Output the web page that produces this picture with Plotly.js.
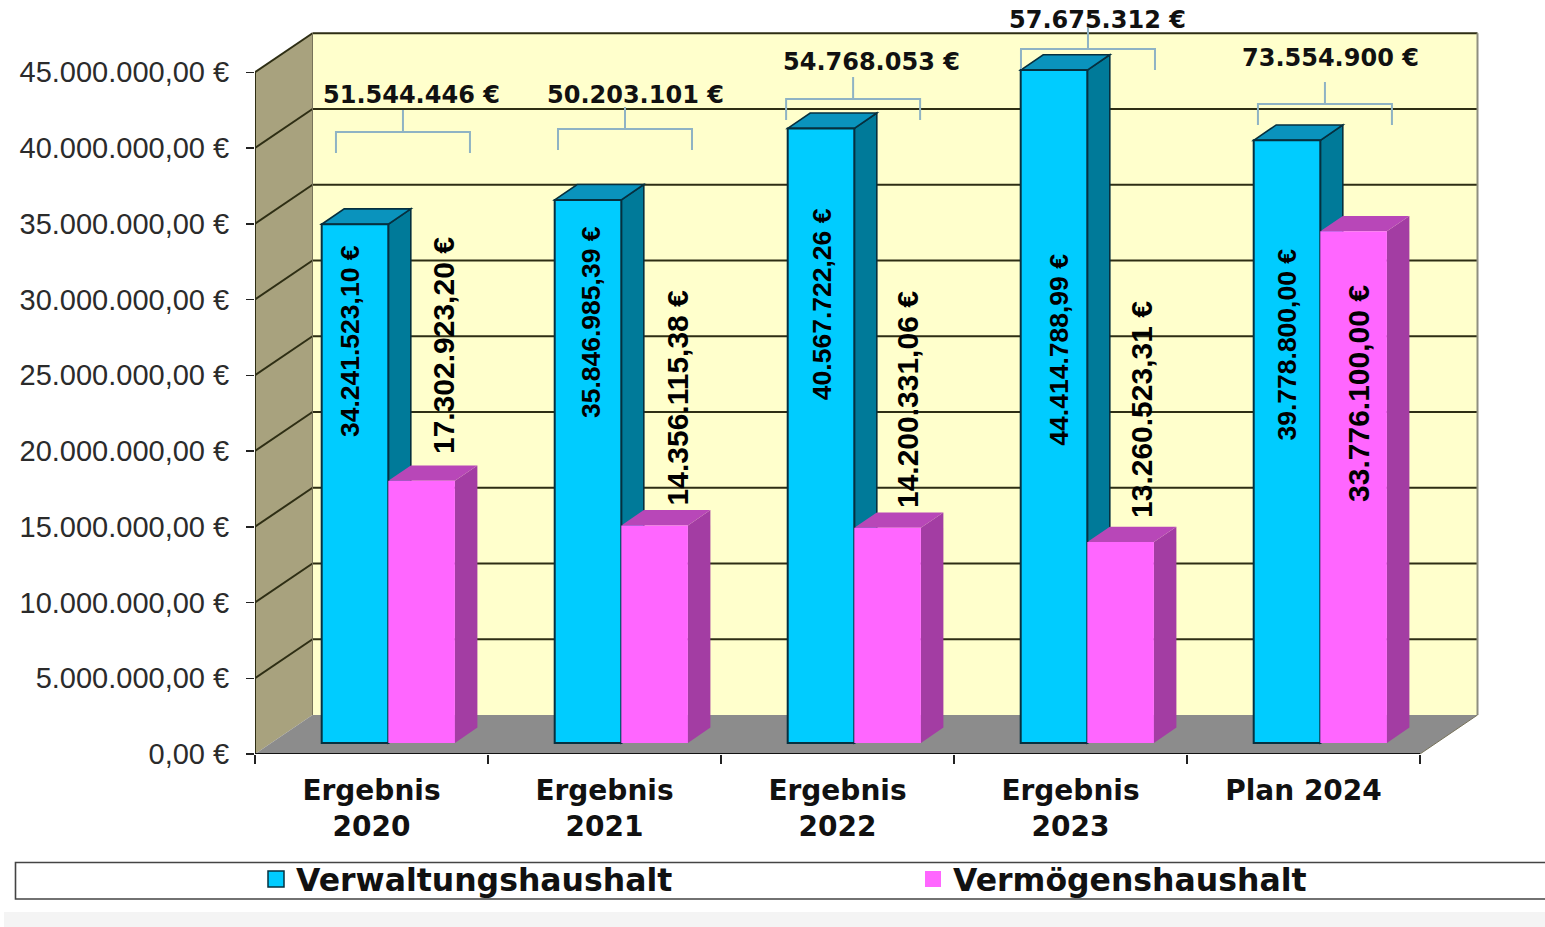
<!DOCTYPE html>
<html><head><meta charset="utf-8">
<script src="https://cdn.plot.ly/plotly-3.0.1.min.js"></script>
<style>html,body{margin:0;padding:0;background:#fff;overflow:hidden}#c{width:1545px;height:927px}</style>
</head><body><div id="c"></div>
<script>
var categories = ['Ergebnis<br>2020','Ergebnis<br>2021','Ergebnis<br>2022','Ergebnis<br>2023','Plan 2024'];
var verwaltung = [34241523.10,35846985.39,40567722.26,44414788.99,39778800.00];
var vermoegen  = [17302923.20,14356115.38,14200331.06,13260523.31,33776100.00];
var verwaltungText = ['34.241.523,10 €','35.846.985,39 €','40.567.722,26 €','44.414.788,99 €','39.778.800,00 €'];
var vermoegenText  = ['17.302.923,20 €','14.356.115,38 €','14.200.331,06 €','13.260.523,31 €','33.776.100,00 €'];
var totalsText = ['51.544.446 €','50.203.101 €','54.768.053 €','57.675.312 €','73.554.900 €'];
var yTickVals = [0,5e6,10e6,15e6,20e6,25e6,30e6,35e6,40e6,45e6];
var yTickText = ['0,00 €','5.000.000,00 €','10.000.000,00 €','15.000.000,00 €','20.000.000,00 €','25.000.000,00 €','30.000.000,00 €','35.000.000,00 €','40.000.000,00 €','45.000.000,00 €'];
var seriesNames = ['Verwaltungshaushalt','Vermögenshaushalt'];

// label and bracket placement (category units / euro levels)
var blueLabelX = [-0.092,0.942,1.934,2.947,3.925];
var blueLabelY = [27.26e6,28.51e6,29.70e6,26.70e6,27.03e6];
var pinkLabelX = [0.307,1.315,2.303,3.307,4.238];
var pinkLabelY = [26.93e6,23.53e6,23.37e6,22.71e6,23.83e6];
var bracketX = [0.135,1.088,2.067,3.075,4.092];
var bracketY = [41.06e6,41.25e6,43.23e6,46.53e6,42.90e6];
var totalX = [0.170,1.131,2.148,3.114,4.118];
var totalY = [43.50e6,43.50e6,45.68e6,48.45e6,45.94e6];

var PXX = 233, PXY = 15.15/1e6;           // pixels per category, pixels per euro
var W = 1225, H = 754;                     // plot size: x 255..1480, y 0..754
function ux(p){return p/PXX;}
function uy(p){return p/PXY;}
function px(x){return (x-255)/W;}
function py(y){return (754-y)/H;}

var xMin=-0.5, xFront=4.5, xMax=xMin+W/PXX, yMaxTop=H/PXY;
var wallDx=ux(57.5), wallDy=uy(39);
var barW=ux(66.6), groupShift=ux(16.8), barBase=uy(11);
var depthX=ux(22.5), depthY=uy(15.4);

function poly(pts,fill,line,lw){
  var d=pts.map(function(p,i){return (i?'L':'M')+p[0]+' '+p[1];}).join(' ')+' Z';
  return {type:'path',path:d,xref:'x',yref:'y',layer:'below',fillcolor:fill,line:{color:line||fill,width:lw===undefined?0:lw}};
}
function seg(x0,y0,x1,y1,col,w){
  return {type:'line',x0:x0,y0:y0,x1:x1,y1:y1,xref:'x',yref:'y',layer:'below',line:{color:col,width:w}};
}
var shapes=[];
// page band and legend box
shapes.push({type:'rect',xref:'paper',yref:'paper',x0:px(4),x1:px(1545),y0:py(927),y1:py(912),fillcolor:'#f4f4f4',line:{width:0},layer:'below'});
shapes.push({type:'rect',xref:'paper',yref:'paper',x0:px(15.5),x1:px(1560),y0:py(899),y1:py(862.5),fillcolor:'#ffffff',line:{color:'#444444',width:1.6},layer:'below'});
// walls and floor
var top45=45e6;
shapes.push(poly([[xMin+wallDx,wallDy],[xFront+wallDx,wallDy],[xFront+wallDx,top45+wallDy],[xMin+wallDx,top45+wallDy]],'#FFFFCC'));
shapes.push(poly([[xMin,0],[xMin+wallDx,wallDy],[xMin+wallDx,top45+wallDy],[xMin,top45]],'#A8A27E'));
shapes.push(poly([[xMin,0],[xMin+wallDx,wallDy],[xFront+wallDx,wallDy],[xFront,0]],'#8C8C8C'));
// gridlines on both walls
yTickVals.forEach(function(v){
  if(v===0) return;
  shapes.push(seg(xMin,v,xMin+wallDx,v+wallDy,'#2e2e14',2));
  shapes.push(seg(xMin+wallDx,v+wallDy,xFront+wallDx,v+wallDy,'#2e2e14',2));
});
shapes.push(seg(xFront+wallDx,wallDy,xFront+wallDx,top45+wallDy,'#8f8f80',2));
shapes.push(seg(xMin+wallDx,wallDy,xMin+wallDx,top45+wallDy,'#77735a',1));
shapes.push(seg(xMin,0,xMin,top45,'#2e2e14',2));
// 3D faces of each bar: sides and tops, computed from the values
function faces(i,x0,v,side,topc,edge,lw){
  var x1=x0+barW, t=v+barBase;
  shapes.push(poly([[x1,barBase],[x1+depthX,barBase+depthY],[x1+depthX,t+depthY],[x1,t]],side,edge,lw));
  shapes.push(poly([[x0,t],[x0+depthX,t+depthY],[x1+depthX,t+depthY],[x1,t]],topc,edge,lw));
}
categories.forEach(function(c,i){ faces(i,i+groupShift-barW,verwaltung[i],'#007A99','#0A93BD','#06303f',1.6); });
categories.forEach(function(c,i){ faces(i,i+groupShift,vermoegen[i],'#A33DA3','#B847B8','#A33DA3',0); });
// front axis line
shapes.push(seg(xMin,0,xFront,0,'#111111',2));
shapes.push(seg(xFront,0,xFront+wallDx,wallDy,'#77735a',1));
// brackets over each group
bracketX.forEach(function(x,i){
  var b=bracketY[i], hw=ux(67), drop=uy(21), stem=uy(22);
  shapes.push({type:'path',xref:'x',yref:'y',layer:'below',line:{color:'#8FB3C4',width:2},
    path:'M'+(x-hw)+' '+(b-drop)+' L'+(x-hw)+' '+b+' L'+(x+hw)+' '+b+' L'+(x+hw)+' '+(b-drop)+' M'+x+' '+b+' L'+x+' '+(b+stem)});
});

var annotations=[];
function rot(x,y,t,size){
  annotations.push({x:x,y:y,xref:'x',yref:'y',text:t,showarrow:false,textangle:-90,xanchor:'center',yanchor:'middle',
    font:{family:'"Liberation Sans",sans-serif',size:size,color:'#000',weight:700}});
}
verwaltungText.forEach(function(t,i){rot(blueLabelX[i],blueLabelY[i],t,26.5);});
vermoegenText.forEach(function(t,i){rot(pinkLabelX[i],pinkLabelY[i],t,30);});
totalsText.forEach(function(t,i){
  annotations.push({x:totalX[i],y:totalY[i],xref:'x',yref:'y',text:t,showarrow:false,xanchor:'center',yanchor:'middle',
    font:{family:'"DejaVu Sans",sans-serif',size:24,color:'#111',weight:700}});
});

var idx=categories.map(function(c,i){return i;});
var traces=[
 {type:'bar',x:idx.map(function(i){return i+groupShift-barW/2;}),y:verwaltung,base:barBase,width:barW,name:seriesNames[0],showlegend:false,
  marker:{color:'#00CCFF',line:{color:'#06303f',width:2}},hoverinfo:'skip'},
 {type:'bar',x:idx.map(function(i){return i+groupShift+barW/2;}),y:vermoegen,base:barBase,width:barW,name:seriesNames[1],showlegend:false,
  marker:{color:'#FF66FF',line:{color:'#FF66FF',width:0}},hoverinfo:'skip'},
 {type:'scatter',mode:'markers',x:[null],y:[null],name:seriesNames[0],legend:'legend',marker:{symbol:'square',size:16,color:'#00CCFF',line:{color:'#06303f',width:1.5}}},
 {type:'scatter',mode:'markers',x:[null],y:[null],name:seriesNames[1],legend:'legend2',marker:{symbol:'square',size:16,color:'#FF66FF',line:{width:0}}},
 {type:'scatter',mode:'markers',x:[null],y:[null],xaxis:'x2',showlegend:false,hoverinfo:'skip'}
];
function legendAt(x){
  return {orientation:'h',x:px(x),y:py(879),yanchor:'middle',xanchor:'left',font:{family:'"DejaVu Sans",sans-serif',size:31.5,color:'#111',weight:700},bgcolor:'rgba(0,0,0,0)',borderwidth:0};
}
var layout={
  width:1545,height:927,autosize:false,paper_bgcolor:'#fff',plot_bgcolor:'rgba(0,0,0,0)',
  margin:{l:255,r:65,t:0,b:173,pad:0,autoexpand:false},barmode:'overlay',hovermode:false,
  font:{family:'"Liberation Sans",Arial,sans-serif'},
  xaxis:{range:[xMin,xMax],type:'linear',tickvals:idx,ticktext:categories,ticks:'',showgrid:false,zeroline:false,showline:false,
    tickangle:0,tickfont:{family:'"DejaVu Sans",sans-serif',size:28,color:'#111',weight:700},ticklabelstandoff:17},
  xaxis2:{range:[xMin,xMax],type:'linear',overlaying:'x',anchor:'y',side:'bottom',tickvals:[-0.5,0.5,1.5,2.5,3.5,4.5],ticks:'outside',ticklen:9,tickwidth:1.5,tickcolor:'#222',
    showticklabels:false,showgrid:false,zeroline:false,showline:false},
  yaxis:{range:[0,yMaxTop],tickvals:yTickVals,ticktext:yTickText,ticks:'outside',ticklen:8,tickwidth:1.5,tickcolor:'#222',showgrid:false,zeroline:false,showline:false,
    tickfont:{size:29,color:'#2b2b2b'},ticklabelstandoff:11},
  legend:legendAt(256),legend2:legendAt(913),
  shapes:shapes,annotations:annotations
};
Plotly.newPlot('c',traces,layout,{displayModeBar:false,staticPlot:true});
</script></body></html>
